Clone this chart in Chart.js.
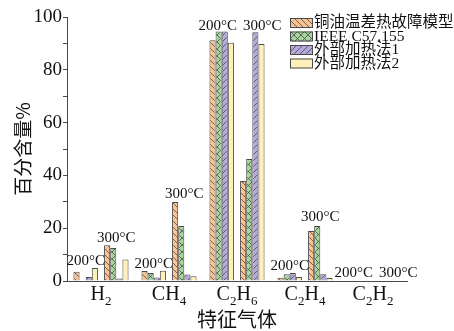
<!DOCTYPE html>
<html>
<head>
<meta charset="utf-8">
<script src="https://cdn.jsdelivr.net/npm/chart.js@4/dist/chart.umd.min.js"></script>
<style>
  html, body { margin: 0; padding: 0; background: #fff; }
  #wrap { width: 454px; height: 331px; }
</style>
</head>
<body>
<div id="wrap"><canvas id="chart" width="454" height="331"></canvas></div>
<script>
// Categories (gas names, digits are drawn as subscripts)
const gases = ['H2', 'CH4', 'C2H6', 'C2H4', 'C2H2'];
const seriesNames = ['铜油温差热故障模型', 'IEEE C57.155', '外部加热法1', '外部加热法2'];

// 200°C values per series
const model200 = [3.5, 3.8, 91.2, 1.2, 0];
const ieee200 = [0, 3.0, 94.5, 2.6, 0];
const ext1_200 = [1.5, 1.3, 94.5, 3.0, 0];
const ext2_200 = [4.9, 3.9, 90.2, 1.5, 0];

// 300°C values per series
const model300 = [13.5, 29.9, 37.9, 18.9, 0];
const ieee300 = [12.5, 20.8, 46.2, 20.8, 0];
const ext1_300 = [0.9, 2.5, 94.2, 2.6, 0];
const ext2_300 = [8.1, 1.8, 89.8, 1.1, 0];

// heights (in %) of the temperature labels above each group
const label200At = [6, 4.9, 95, 4.2, 1.5];
const label300At = [14.8, 31.4, 95, 22.7, 1.5];

const yTicks = [0, 20, 40, 60, 80, 100];

const SERIF = '"Liberation Serif", "Noto Sans CJK SC", serif';
const LINE = '#4a4a4a';

function makeHatch(base, dir, size) {
    let c = document.createElement('canvas');
    c.width = size;
    c.height = size;
    let g = c.getContext('2d');
    g.fillStyle = base;
    g.fillRect(0, 0, size, size);
    if (dir) {
        g.strokeStyle = LINE;
        g.lineWidth = 0.8;
        g.beginPath();
        for (let k = -size; k <= size; k += size) {
            if (dir === 'back' || dir === 'cross') {
                g.moveTo(k, 0);
                g.lineTo(k + size, size);
            }
            if (dir === 'fwd' || dir === 'cross') {
                g.moveTo(k, size);
                g.lineTo(k + size, 0);
            }
        }
        g.stroke();
    }
    return g.createPattern(c, 'repeat');
}

const fills = [
    makeHatch('#f9c391', 'back', 6),
    makeHatch('#a6d69c', 'cross', 7),
    makeHatch('#b5a8dc', 'fwd', 6),
    makeHatch('#fff0ba', null, 6)
];

function barSet(data, idx) {
    return {
        label: seriesNames[idx],
        data: data,
        backgroundColor: fills[idx],
        borderColor: LINE,
        borderWidth: 1,
        barPercentage: 1,
        categoryPercentage: 0.81
    };
}

// 200°C set, an empty spacer, then the 300°C set
const datasets = [
    barSet(model200, 0), barSet(ieee200, 1), barSet(ext1_200, 2), barSet(ext2_200, 3),
    { label: '', data: gases.map(() => null), barPercentage: 1, categoryPercentage: 0.81 },
    barSet(model300, 0), barSet(ieee300, 1), barSet(ext1_300, 2), barSet(ext2_300, 3)
];

// text with subscripted digits, centred on x
function drawFormula(ctx, text, x, y) {
    let parts = text.match(/[A-Za-z]+|\d+/g);
    let big = '20px ' + SERIF, small = '13px ' + SERIF;
    let width = 0;
    parts.forEach(p => {
        ctx.font = /\d/.test(p) ? small : big;
        width += ctx.measureText(p).width;
    });
    let cx = x - width / 2;
    ctx.textAlign = 'left';
    ctx.textBaseline = 'alphabetic';
    parts.forEach(p => {
        let sub = /\d/.test(p);
        ctx.font = sub ? small : big;
        ctx.fillText(p, cx, sub ? y + 5 : y);
        cx += ctx.measureText(p).width;
    });
}

const overlay = {
    id: 'overlay',
    afterDatasetsDraw(chart) {
        let ctx = chart.ctx;
        let ys = chart.scales.y;
        ctx.save();
        ctx.fillStyle = '#111';
        ctx.font = '15px ' + SERIF;
        ctx.textBaseline = 'alphabetic';
        gases.forEach((g, i) => {
            let a = chart.getDatasetMeta(0).data[i];
            let b = chart.getDatasetMeta(3).data[i];
            let c = chart.getDatasetMeta(5).data[i];
            let d = chart.getDatasetMeta(8).data[i];
            let s200 = [a.x - a.width / 2, b.x + b.width / 2];
            let s300 = [c.x - c.width / 2, d.x + d.width / 2];
            if (label200At[i] === label300At[i]) {
                ctx.textAlign = 'right';
                ctx.fillText('200°C', s200[1] + 3, ys.getPixelForValue(label200At[i]));
                ctx.textAlign = 'left';
                ctx.fillText('300°C', s300[0] + 3, ys.getPixelForValue(label300At[i]));
            } else {
                ctx.textAlign = 'center';
                ctx.fillText('200°C', (s200[0] + s200[1]) / 2, ys.getPixelForValue(label200At[i]));
                ctx.fillText('300°C', (s300[0] + s300[1]) / 2, ys.getPixelForValue(label300At[i]));
            }
        });
        ctx.restore();
    },
    afterDraw(chart) {
        let ctx = chart.ctx;
        let area = chart.chartArea;
        let xs = chart.scales.x;
        ctx.save();
        ctx.fillStyle = '#111';

        // x tick labels
        gases.forEach((g, i) => drawFormula(ctx, g, xs.getPixelForValue(i), area.bottom + 19));

        // axis titles
        ctx.font = '20px "Noto Sans CJK SC", sans-serif';
        ctx.textAlign = 'center';
        ctx.textBaseline = 'middle';
        ctx.fillText('特征气体', (area.left + area.right) / 2, area.bottom + 38);
        ctx.save();
        ctx.translate(23, (area.top + area.bottom) / 2);
        ctx.rotate(-Math.PI / 2);
        ctx.font = '19px "Noto Sans CJK SC", sans-serif';
        ctx.fillText('百分含量%', 0, 0);
        ctx.restore();

        // legend
        ctx.font = '15.5px ' + SERIF;
        ctx.textAlign = 'left';
        ctx.textBaseline = 'middle';
        seriesNames.forEach((name, i) => {
            let top = 18 + i * 13.5;
            ctx.fillStyle = fills[i];
            ctx.fillRect(290, top, 23, 10);
            ctx.strokeStyle = LINE;
            ctx.lineWidth = 1;
            ctx.strokeRect(290.5, top + 0.5, 22, 9);
            ctx.fillStyle = '#111';
            ctx.fillText(name, 314, top + 5);
        });
        ctx.restore();
    }
};

new Chart(document.getElementById('chart'), {
    type: 'bar',
    data: {
        labels: gases,
        datasets: datasets
    },
    plugins: [overlay],
    options: {
        responsive: false,
        animation: false,
        events: [],
        layout: { padding: { top: 17, right: 47, left: 0, bottom: 0 } },
        plugins: {
            legend: { display: false },
            tooltip: { enabled: false }
        },
        scales: {
            x: {
                ticks: { display: false },
                grid: { display: false },
                border: { display: true, color: LINE, width: 1 },
                afterFit(scale) { scale.height = 50; }
            },
            y: {
                min: 0,
                max: 100,
                ticks: {
                    stepSize: 10,
                    padding: 1,
                    color: '#111',
                    font: { family: SERIF, size: 19 },
                    callback: v => (yTicks.includes(v) ? v : '')
                },
                grid: { drawOnChartArea: false, drawTicks: true, tickLength: 4, color: LINE },
                border: { display: true, color: LINE, width: 1 },
                afterFit(scale) { scale.width = 67; }
            }
        }
    }
});
</script>
</body>
</html>
